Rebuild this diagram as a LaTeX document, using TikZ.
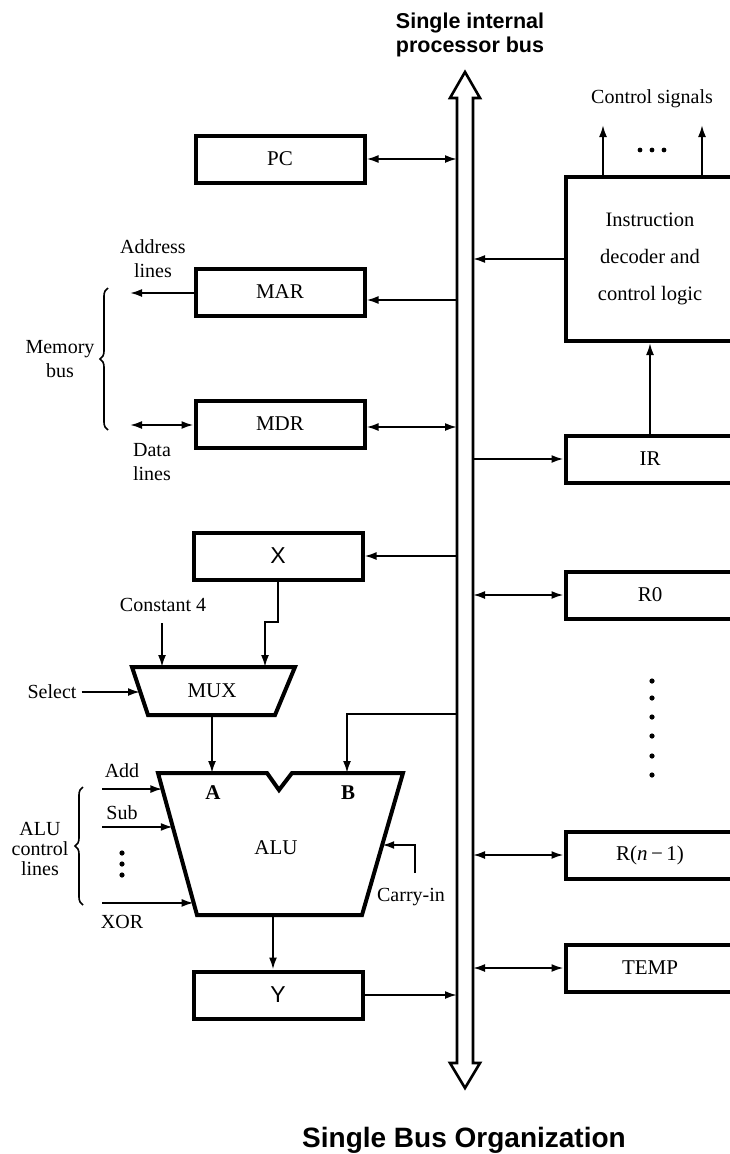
\documentclass[tikz,border=0pt]{standalone}
\usepackage{fontspec}
\setmainfont{Liberation Serif}
\newfontfamily\busfont{Liberation Sans}
\usetikzlibrary{arrows.meta,positioning,calc,decorations.pathreplacing}
\newcommand\regfont{\fontsize{21}{24}\selectfont}
\newcommand\tagfont{\fontsize{20}{24}\selectfont}
\tikzset{
  >={Latex[length=12pt,width=8pt]},
  reg/.style={draw,line width=4pt,minimum width=#1,minimum height=47pt,inner sep=0pt,font=\regfont},
  reg/.default=169pt,
  link/.style={line width=2pt},
  unit/.style={line width=4pt,line join=miter},
  bus/.style={line width=2.6pt,line join=miter},
  tag/.style={font=\tagfont,align=center,inner sep=0pt},
  memo/.style={decorate,decoration={brace,amplitude=8pt},line width=1.6pt},
  head/.style={font=\busfont\bfseries\fontsize{#1}{24}\selectfont,align=center,inner sep=0pt},
}
\begin{document}
\begin{tikzpicture}[x=1pt,y=-1pt]
  \clip (0,0) rectangle (730,1154);
  % internal bus
  \draw[bus] (457,98) -- (450,98) -- (465,72) -- (480,98) -- (473,98) -- (473,1063)
    -- (480,1063) -- (465,1088) -- (450,1063) -- (457,1063) -- cycle;
  \coordinate (busL) at (457,500);
  \coordinate (busR) at (473,500);
  \node[head=21.5] (bustag) at (470,35) {Single internal\\processor bus};
  \node[head=28,anchor=base] (title) at (464,1147) {Single Bus Organization};

  % registers left of the bus
  \node[reg] (pc) at (280,159) {PC};
  \node[reg] (mar) at (280,292) {MAR};
  \node[reg] (mdr) at (280,424) {MDR};
  \node[reg,font=\busfont\fontsize{23}{24}\selectfont] (xr) at (278,556) {X};
  \node[reg,font=\busfont\fontsize{23}{24}\selectfont] (yr) at (278,995) {Y};
  \draw[link,<->] (pc.east) -- (pc.east -| busL);
  \draw[link,<-] ([yshift=-8pt]mar.east) -- ([yshift=-8pt]mar.east -| busL);
  \draw[link,<->] ([yshift=-3pt]mdr.east) -- ([yshift=-3pt]mdr.east -| busL);
  \draw[link,<-] (xr.east) -- (xr.east -| busL);
  \draw[link,->] (yr.east) -- (yr.east -| busL);

  % memory bus
  \coordinate (addr) at (130,293);
  \coordinate (data) at (130,425);
  \draw[link,->] (mar.west |- addr) -- (addr);
  \draw[link,<->] (mdr.west |- data) -- (data);
  \node[tag] (addrtag) at (153,259) {Address\\lines};
  \node[tag] (datatag) at (152,462) {Data\\lines};
  \draw[memo] (108,430) -- (108,288);
  \node[tag] (memtag) at (60,359) {Memory\\bus};

  % multiplexer
  \draw[unit] (132,667) -- (295,667) -- (275,715) -- (148,715) -- cycle;
  \node[font=\regfont] (mux) at (212,691) {MUX};
  \coordinate (muxc) at (162,667);
  \coordinate (muxx) at (265,667);
  \coordinate (muxsel) at (140,692);
  \coordinate (muxout) at (212,715);
  \coordinate (c4) at (162,623);
  \node[tag] (c4tag) at (163,605) {Constant 4};
  \draw[link,->] (c4) -- (muxc);
  \draw[link,->] (xr.south) -- (xr.south |- 0,622) -| (muxx);
  \node[tag] (seltag) at (52,692) {Select};
  \draw[link,->] ([xshift=5pt]seltag.east) -- (muxsel);

  % ALU
  \coordinate (aluTL) at (158,773);
  \coordinate (aluTR) at (403,773);
  \coordinate (aluBR) at (362,915);
  \coordinate (aluBL) at (197,915);
  \draw[unit] (aluTL) -- (267,773) -- (279,790) -- (292,773) -- (aluTR) -- (aluBR) -- (aluBL) -- cycle;
  \node[font=\regfont] (alu) at (276,848) {ALU};
  \node[font=\regfont\bfseries] (ina) at (213,793) {A};
  \node[font=\regfont\bfseries] (inb) at (348,793) {B};
  \coordinate (aluA) at (212,773);
  \coordinate (aluB) at (347,773);
  \draw[link,->] (muxout) -- (aluA);
  \draw[link,->] (busL |- 0,714) -| (aluB);
  \foreach \t/\k/\y [count=\i] in {Add/0.113/771,Sub/0.38/813,XOR/0.915/922}{
    \coordinate (ctl\i) at ($(aluTL)!\k!(aluBL)$);
    \draw[link,->] (ctl\i -| 102,0) -- (ctl\i);
    \node[tag] (ctltag\i) at (122,\y) {\t};
  }
  \foreach \y in {853,864,875} \fill (122,\y) circle (2.6);
  \draw[memo] (83,905) -- (83,787);
  \node[tag,font=\fontsize{20}{20}\selectfont] (alutag) at (40,849) {ALU\\control\\lines};
  \coordinate (cin) at ($(aluTR)!0.507!(aluBR)$);
  \coordinate (carry) at (415,873);
  \draw[link,->] (carry) |- (cin);
  \node[tag] (cintag) at (411,897) {Carry-in};
  \coordinate (aluout) at (273,915);
  \draw[link,->] (aluout) -- (aluout |- yr.north);

  % control unit and registers right of the bus
  \node[reg,minimum height=164pt,align=center,font=\fontsize{20.5}{37}\selectfont] (dec) at (650,259)
    {Instruction\\decoder and\\control logic};
  \node[reg] (ir) at (650,459) {IR};
  \node[reg] (r0) at (650,595) {R0};
  \node[reg] (rn) at (650,855) {R(\textit{n}\,−\,1)};
  \node[reg] (temp) at (650,968) {TEMP};
  \draw[link,->] (dec.west) -- (dec.west -| busR);
  \draw[link,->] (ir.west -| busR) -- (ir.west);
  \foreach \r in {r0,rn,temp} \draw[link,<->] (\r.west -| busR) -- (\r.west);
  \draw[link,->] (ir.north) -- (ir.north |- dec.south);
  \foreach \y in {681,698,717,736,756,775} \fill (652,\y) circle (2.6);
  \coordinate (sig1) at (603,125);
  \coordinate (sig2) at (702,125);
  \foreach \s in {sig1,sig2} \draw[link,->] (dec.north -| \s) -- (\s);
  \foreach \x in {640,652,664} \fill (\x,150) circle (2.4);
  \node[tag,anchor=base] (sigtag) at (652,103) {Control signals};
\end{tikzpicture}
\end{document}
